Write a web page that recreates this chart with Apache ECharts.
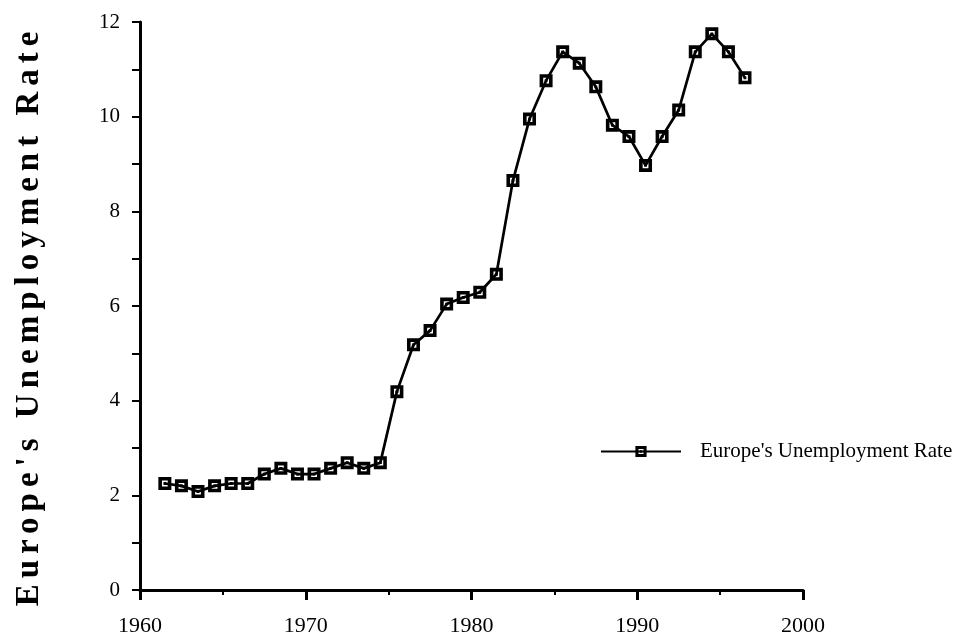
<!DOCTYPE html>
<html>
<head>
<meta charset="utf-8">
<title>Europe's Unemployment Rate</title>
<script src="https://cdn.jsdelivr.net/npm/echarts@6/dist/echarts.min.js"></script>
<style>
  html, body { margin: 0; padding: 0; background: #fff; }
  #chart { width: 960px; height: 637px; }
</style>
</head>
<body>
<div id="chart"></div>
<script>
// Annual unemployment rate (%), 1961–1996, plotted at mid-year
const years = [1961, 1962, 1963, 1964, 1965, 1966, 1967, 1968, 1969, 1970,
               1971, 1972, 1973, 1974, 1975, 1976, 1977, 1978, 1979, 1980,
               1981, 1982, 1983, 1984, 1985, 1986, 1987, 1988, 1989, 1990,
               1991, 1992, 1993, 1994, 1995, 1996];
const rates = [2.25, 2.20, 2.08, 2.20, 2.25, 2.25, 2.45, 2.57, 2.45, 2.45,
               2.57, 2.69, 2.57, 2.69, 4.19, 5.18, 5.48, 6.04, 6.18, 6.29,
               6.67, 8.65, 9.95, 10.76, 11.37, 11.13, 10.63, 9.82, 9.58, 8.97,
               9.58, 10.14, 11.37, 11.75, 11.37, 10.82];
const xTicks = [1960, 1970, 1980, 1990, 2000];
const yTicks = [0, 2, 4, 6, 8, 10, 12];
const seriesName = "Europe's Unemployment Rate";
const axisTitle = "Europe's Unemployment Rate";

// Wide tracking for the bold vertical axis title only
const baseFillText = CanvasRenderingContext2D.prototype.fillText;
CanvasRenderingContext2D.prototype.fillText = function (text, x, y, maxWidth) {
  if (text === axisTitle && /bold|700/.test(this.font)) {
    this.save();
    this.letterSpacing = '6px';
    baseFillText.call(this, text, x, y);
    this.restore();
    this.letterSpacing = '0px';
    return;
  }
  if (this.letterSpacing && this.letterSpacing !== '0px') {
    this.letterSpacing = '0px';
  }
  return maxWidth === undefined
    ? baseFillText.call(this, text, x, y)
    : baseFillText.call(this, text, x, y, maxWidth);
};

// Square marker: black box with a thin white ring and a black centre
const boxMarker = 'path://M0,0H13V13H0Z M3.6,3.6V9.4H9.4V3.6Z M5.1,5.1H7.9V7.9H5.1Z';

const serif = '"Liberation Serif", "Times New Roman", serif';
const points = years.map((yr, i) => [yr + 0.5, rates[i]]);

const chart = echarts.init(document.getElementById('chart'), null, { renderer: 'canvas' });
chart.setOption({
  animation: false,
  backgroundColor: '#fff',
  grid: { left: 140, right: 157, top: 22, bottom: 47, containLabel: false },
  legend: {
    left: 600,
    top: 441,
    padding: 0,
    itemWidth: 80,
    itemHeight: 14,
    data: [seriesName],
    textStyle: { fontFamily: serif, fontSize: 21, color: '#000', padding: [0, 0, 0, 14] }
  },
  xAxis: {
    type: 'value',
    min: xTicks[0],
    max: xTicks[xTicks.length - 1],
    interval: 10,
    splitLine: { show: false },
    axisLine: { onZero: false, lineStyle: { color: '#000', width: 3 } },
    axisTick: { length: 10, lineStyle: { color: '#000', width: 3 } },
    minorTick: { show: true, splitNumber: 2, length: 5, lineStyle: { color: '#000', width: 2 } },
    axisLabel: {
      margin: 25,
      color: '#000',
      fontFamily: serif,
      fontSize: 22,
      formatter: v => String(v)
    }
  },
  yAxis: {
    type: 'value',
    min: yTicks[0],
    max: yTicks[yTicks.length - 1],
    interval: 2,
    splitLine: { show: false },
    axisLine: { lineStyle: { color: '#000', width: 3 } },
    axisTick: { length: 8, lineStyle: { color: '#000', width: 2 } },
    minorTick: { show: true, splitNumber: 2, length: 8, lineStyle: { color: '#000', width: 2 } },
    axisLabel: {
      margin: 20,
      color: '#000',
      fontFamily: serif,
      fontSize: 21
    },
    name: axisTitle,
    nameLocation: 'middle',
    nameRotate: 90,
    nameGap: 94,
    nameTextStyle: {
      color: '#000',
      fontFamily: serif,
      fontWeight: 'bold',
      fontSize: 33,
      padding: [0, 20, 0, 0]
    }
  },
  series: [{
    name: seriesName,
    type: 'line',
    data: points,
    symbol: boxMarker,
    symbolSize: 13,
    showSymbol: true,
    color: '#000',
    lineStyle: { color: '#000', width: 2.7 },
    itemStyle: { color: '#000' }
  }]
});
</script>
</body>
</html>
